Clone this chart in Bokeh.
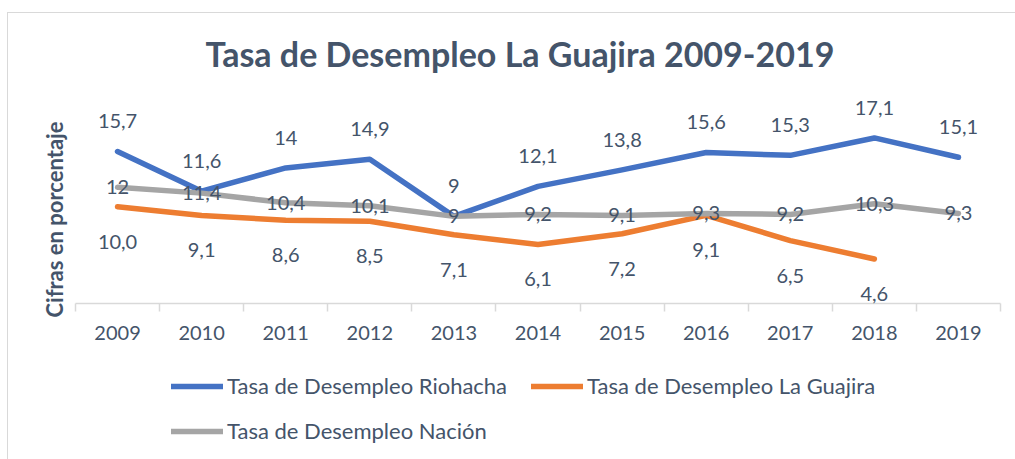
from bokeh.plotting import figure
from bokeh.layouts import column
from bokeh.models import ColumnDataSource, LabelSet, Legend, LegendItem, FixedTicker, Range1d, Title
from bokeh.core.properties import value
from bokeh.embed import file_html
from bokeh.resources import INLINE

# ---- data ----
years = [2009, 2010, 2011, 2012, 2013, 2014, 2015, 2016, 2017, 2018, 2019]
riohacha = [15.7, 11.6, 14, 14.9, 9, 12.1, 13.8, 15.6, 15.3, 17.1, 15.1]
guajira_years = [2009, 2010, 2011, 2012, 2013, 2014, 2015, 2016, 2017, 2018]
guajira = [10.0, 9.1, 8.6, 8.5, 7.1, 6.1, 7.2, 9.1, 6.5, 4.6]
nacion = [12, 11.4, 10.4, 10.1, 9, 9.2, 9.1, 9.3, 9.2, 10.3, 9.3]

series_names = ["Tasa de Desempleo Riohacha", "Tasa de Desempleo La Guajira", "Tasa de Desempleo Nación"]
title_text = "Tasa de Desempleo La Guajira 2009-2019"
y_label = "Cifras en porcentaje"


def fmt_general(v):
    return (str(int(v)) if float(v).is_integer() else str(v)).replace(".", ",")


def fmt_one(v):
    return f"{v:.1f}".replace(".", ",")


BLUE = "#4472C4"
ORANGE = "#ED7D31"
GRAY = "#A5A5A5"
TEXT = "#44546A"
AXIS = "#D9D9D9"
FONT = "Lato"
LW = 5.5

p = figure(width=1007, height=347, output_backend="svg", toolbar_location=None,
           x_range=Range1d(2008.5, 2019.5), y_range=Range1d(0, 22), y_axis_location=None,
           min_border_left=67, min_border_right=15, min_border_top=76, min_border_bottom=57)
p.outline_line_color = None
p.grid.visible = False

# title
p.title.text = title_text
p.title.align = "left"
p.title.offset = 130
p.title.text_font = FONT
p.title.text_font_style = "bold"
p.title.text_font_size = "34px"
p.title.text_color = TEXT
p.title.standoff = 34

# y axis title
p.add_layout(Title(text=y_label, align="left", offset=-14, standoff=16,
                   text_font=FONT, text_font_style="bold", text_font_size="22px",
                   text_color=TEXT), "left")

src_r = ColumnDataSource(dict(x=years, y=riohacha, t=[fmt_general(v) for v in riohacha]))
src_g = ColumnDataSource(dict(x=guajira_years, y=guajira, t=[fmt_one(v) for v in guajira]))
src_n = ColumnDataSource(dict(x=years, y=nacion, t=[fmt_general(v) for v in nacion]))

line_style = dict(line_width=LW, line_cap="round", line_join="round")
r1 = p.line("x", "y", source=src_r, line_color=BLUE, **line_style)
r2 = p.line("x", "y", source=src_g, line_color=ORANGE, **line_style)
r3 = p.line("x", "y", source=src_n, line_color=GRAY, **line_style)

for src, off in ((src_r, 30), (src_g, -35), (src_n, 0)):
    p.add_layout(LabelSet(x="x", y="y", text="t", source=src, y_offset=off,
                          text_align="center", text_baseline="middle",
                          text_font=value(FONT), text_font_size=value("20px"),
                          text_color=TEXT))

# x axis
minor = [y - 0.5 for y in years] + [years[-1] + 0.5]
p.xaxis.ticker = FixedTicker(ticks=years, minor_ticks=minor)
p.xaxis.major_label_overrides = {y: str(y) for y in years}
p.xaxis.axis_line_color = AXIS
p.xaxis.axis_line_width = 1.5
p.xaxis.major_tick_line_color = None
p.xaxis.major_tick_out = 0
p.xaxis.major_tick_in = 0
p.xaxis.minor_tick_line_color = AXIS
p.xaxis.minor_tick_line_width = 1.5
p.xaxis.minor_tick_out = 8
p.xaxis.minor_tick_in = 0
p.xaxis.major_label_standoff = 14
p.xaxis.major_label_text_font = FONT
p.xaxis.major_label_text_font_size = "20px"
p.xaxis.major_label_text_color = TEXT

# ---- legend strip below the chart (its frame range shows none of the series) ----
pl = figure(width=1007, height=99, output_backend="svg", toolbar_location=None,
            x_range=Range1d(0, 1), y_range=Range1d(0, 1),
            x_axis_location=None, y_axis_location=None, min_border=0)
pl.outline_line_color = None
pl.grid.visible = False
k1 = pl.line("x", "y", source=src_r, line_color=BLUE, **line_style)
k2 = pl.line("x", "y", source=src_g, line_color=ORANGE, **line_style)
k3 = pl.line("x", "y", source=src_n, line_color=GRAY, **line_style)

common = dict(orientation="horizontal", padding=0, margin=0, spacing=24, glyph_width=52,
              glyph_height=24, label_height=24, label_standoff=4,
              label_text_font=FONT, label_text_font_size="22px", label_text_color=TEXT,
              border_line_color=None, background_fill_alpha=0)
leg1 = Legend(items=[LegendItem(label=series_names[0], renderers=[k1]),
                     LegendItem(label=series_names[1], renderers=[k2])],
              location=(96, 60), **common)
leg2 = Legend(items=[LegendItem(label=series_names[2], renderers=[k3])],
              location=(96, 15), **common)
pl.add_layout(leg1)
pl.add_layout(leg2)

layout = column(p, pl, spacing=0)
layout.styles = {"border-top": "1px solid #D9D9D9", "border-left": "1px solid #D9D9D9",
                 "margin-left": "7px", "margin-top": "12px"}

open("out.html", "w").write(file_html(layout, INLINE))
